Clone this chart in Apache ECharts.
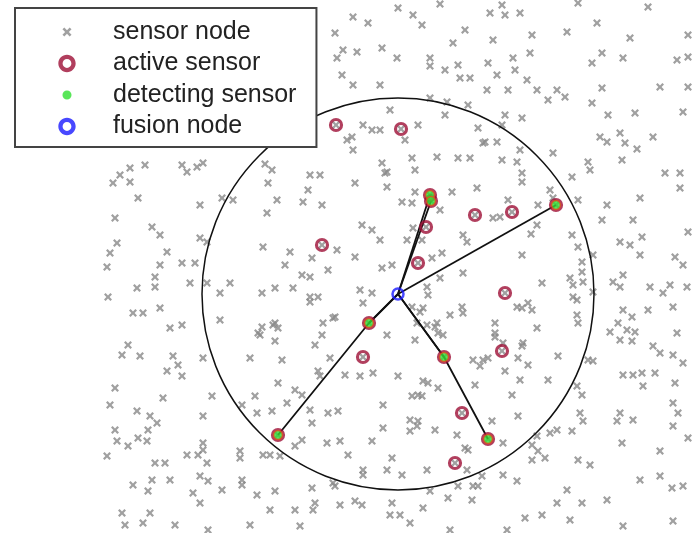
<!DOCTYPE html>
<html>
<head>
<meta charset="utf-8">
<script src="https://cdn.jsdelivr.net/npm/echarts@6/dist/echarts.min.js"></script>
<style>
  html, body { margin: 0; padding: 0; background: #fff; }
  #chart { width: 692px; height: 533px; }
</style>
</head>
<body>
<div id="chart"></div>
<script>
// Field extent (field units, y grows downward)
const fieldWidth = 692;
const fieldHeight = 533;

// Ordinary (idle) sensor nodes scattered over the field
const sensorNodes = [
  [353,17],[368,23],[335,33],[343,50],[357,52],[382,48],[397,58],[337,58],[342,75],[353,85],
  [380,85],[390,110],[363,125],[372,130],[380,130],[347,140],[352,137],[353,150],[382,163],[265,164],
  [203,163],[398,8],[413,15],[422,25],[440,4],[465,30],[490,13],[502,5],[505,15],[520,13],
  [493,40],[532,35],[567,32],[578,3],[597,23],[648,7],[630,38],[688,35],[453,43],[430,58],
  [430,66],[445,70],[458,65],[460,78],[470,78],[488,63],[513,58],[530,53],[497,75],[515,70],
  [527,80],[487,90],[508,90],[537,90],[557,90],[565,97],[548,100],[602,53],[592,63],[623,58],
  [677,60],[688,57],[602,88],[592,103],[660,87],[688,87],[608,115],[635,113],[683,112],[430,98],
  [447,102],[468,105],[445,115],[505,115],[522,118],[418,125],[405,140],[478,128],[502,125],[485,142],
  [497,142],[520,150],[412,158],[437,157],[458,158],[470,158],[502,160],[517,162],[553,153],[600,137],
  [607,142],[620,133],[625,143],[637,149],[653,137],[622,160],[588,162],[590,170],[572,177],[522,173],
  [387,172],[415,170],[665,173],[680,173],[197,167],[310,175],[320,175],[483,143],
  [522,182],[607,205],[578,200],[477,188],[508,200],[493,218],[500,217],[538,205],[550,190],[553,198],
  [537,225],[531,234],[463,235],[467,242],[522,255],[463,273],[542,283],[572,235],[578,247],[582,262],
  [582,272],[583,282],[593,255],[570,278],[593,292],[577,300],[577,315],[578,323],[528,303],[532,310],
  [495,323],[495,333],[537,328],[462,307],[463,313],[602,220],[633,220],[642,237],[680,188],[640,198],
  [620,242],[630,245],[640,255],[675,257],[683,265],[688,232],[613,282],[623,275],[620,287],[650,287],
  [670,285],[663,293],[687,287],[648,310],[673,307],[623,310],[632,317],[618,323],[610,332],[627,330],
  [635,332],[677,333],
  [272,170],[268,183],[308,190],[303,202],[322,205],[277,200],[267,213],[355,183],[385,173],[387,187],
  [415,192],[402,202],[412,203],[440,210],[452,192],[362,225],[372,230],[380,240],[407,240],[413,228],
  [422,240],[263,247],[290,252],[312,258],[337,250],[355,257],[285,265],[328,270],[382,268],[392,265],
  [432,258],[442,253],[440,278],[427,287],[428,295],[302,275],[310,277],[275,288],[293,288],[310,297],
  [318,297],[360,290],[372,293],[262,293],[363,303],[412,307],[420,312],[450,315],[517,307],[275,323],
  [262,327],[323,323],[335,317],[387,335],[417,323],[427,325],[437,323],[443,335],[573,285],[573,297],
  [310,302],[333,318],[273,325],[278,328],[258,333],[322,335],[423,308],[435,327],[438,333],[415,340],
  [522,308],[523,343],[495,337],
  [503,343],[522,346],[518,358],[528,365],[473,360],[483,360],[488,358],[480,366],[505,371],[475,385],
  [520,380],[548,380],[558,356],[588,360],[593,361],[512,395],[518,416],[492,421],[577,386],[582,395],
  [580,413],[583,421],[550,433],[557,430],[572,431],[537,436],[532,445],[538,451],[532,460],[545,458],
  [503,443],[468,450],[482,476],[503,475],[517,481],[473,486],[478,486],[472,500],[578,460],[590,465],
  [567,490],[557,503],[582,503],[607,500],[542,515],[525,518],[570,520],[507,530],[620,340],[632,341],
  [653,346],[660,353],[673,355],[683,363],[623,375],[633,375],[642,373],[655,373],[643,386],[675,383],
  [620,413],[617,421],[633,420],[673,403],[678,413],[673,426],[688,438],[622,443],[660,451],[640,480],
  [660,476],[672,488],[683,486],[673,521],[623,526],
  [260,335],[275,341],[315,345],[250,358],[282,360],[330,358],[318,371],[320,376],[345,375],[360,376],
  [373,373],[398,376],[278,383],[295,390],[302,395],[255,396],[287,403],[257,413],[272,411],[310,410],
  [328,413],[338,411],[312,423],[242,405],[383,405],[423,381],[428,383],[438,388],[418,395],[412,396],
  [422,396],[410,420],[418,421],[417,426],[410,431],[383,428],[435,430],[457,435],[302,440],[295,446],
  [327,443],[340,441],[372,441],[392,458],[348,455],[363,470],[363,475],[387,470],[402,475],[427,470],
  [263,455],[270,455],[280,456],[240,451],[240,458],[242,480],[242,485],[257,495],[275,491],[312,488],
  [333,483],[335,486],[315,503],[313,510],[295,510],[270,510],[340,505],[355,501],[362,505],[392,503],
  [390,515],[400,515],[410,523],[423,508],[430,491],[448,498],[458,486],[467,470],[250,525],[300,526],
  [465,448],[450,530],
  [128,345],[122,355],[140,356],[173,356],[178,365],[167,371],[182,376],[203,358],[115,388],[163,398],
  [212,396],[110,405],[137,411],[150,416],[157,423],[203,416],[115,430],[148,430],[117,441],[128,446],
  [138,438],[147,441],[107,456],[155,463],[165,463],[187,455],[198,455],[203,443],[203,450],[207,463],
  [133,485],[152,480],[170,480],[148,491],[200,476],[208,481],[193,493],[200,503],[222,490],[122,513],
  [150,513],[125,525],[143,523],[175,525],[208,530],
  [130,168],[145,165],[120,175],[130,182],[113,183],[182,165],[187,172],[138,198],[200,205],[115,218],
  [152,227],[160,235],[200,238],[207,242],[117,243],[110,253],[167,252],[107,267],[160,265],[182,263],
  [195,263],[155,277],[155,287],[137,288],[190,283],[207,283],[108,297],[160,308],[133,313],[143,313],
  [170,328],[182,325],[222,198],[233,200],[220,293],[230,283],[220,320]
];

// Sensors woken up around the target
const activeSensors = [
  [336,125],[401,129],[322,245],[426,227],[418,263],[475,215],
  [512,212],[505,293],[363,357],[502,351],[462,413],[455,463]
];

// Sensors that detected the target
const detectingSensors = [
  [430,195],[431,201],[556,205],[369,323],[278,435],[444,357],[488,439]
];

// Fusion node and its coverage radius
const fusionNode = [398,294];
const coverageRadius = 196;

// Reporting paths: indices into detectingSensors, relayed toward the fusion node
const reportRoutes = [[0],[1],[2],[3],[4,3],[5],[6,5]];

// Every active/detecting sensor is also a sensor node
const allNodes = sensorNodes.concat(activeSensors, detectingSensors);
const allActive = activeSensors.concat(detectingSensors);
const routeLines = reportRoutes.map(r => ({
  coords: r.map(i => detectingSensors[i]).concat([fusionNode])
}));

const crossPath = 'path://M0,2L2,0L5,3L8,0L10,2L7,5L10,8L8,10L5,7L2,10L0,8L3,5Z';

// Legend icons: shapes centred at (10,10), corners pinned at 2.5 / 17.5 to fix the icon box
const pad = 'M2.5,2.5h0.01v0.01h-0.01zM17.5,17.5h0.01v0.01h-0.01z';
const iconCross = 'path://' + pad + 'M6.6,8L8,6.6L10,8.6L12,6.6L13.4,8L11.4,10L13.4,12L12,13.4L10,11.4L8,13.4L6.6,12L8.6,10Z';
const iconDot = 'path://' + pad + 'M13.4,10C13.4,11.88 11.88,13.4 10,13.4C8.12,13.4 6.6,11.88 6.6,10C6.6,8.12 8.12,6.6 10,6.6C11.88,6.6 13.4,8.12 13.4,10Z';
const iconRing = 'path://' + pad +
  'M16.5,10C16.5,13.59 13.59,16.5 10,16.5C6.41,16.5 3.5,13.59 3.5,10C3.5,6.41 6.41,3.5 10,3.5C13.59,3.5 16.5,6.41 16.5,10Z' +
  'M13.3,10C13.3,8.18 11.82,6.7 10,6.7C8.18,6.7 6.7,8.18 6.7,10C6.7,11.82 8.18,13.3 10,13.3C11.82,13.3 13.3,11.82 13.3,10Z';

const FONT = '"Liberation Sans", Arial, Helvetica, sans-serif';
const ACTIVE_RED = '#9e0f36';

const chart = echarts.init(document.getElementById('chart'), null, { renderer: 'canvas' });
chart.setOption({
  animation: false,
  backgroundColor: '#ffffff',
  grid: { left: 0, right: 0, top: 0, bottom: 0, containLabel: false },
  xAxis: { type: 'value', min: 0, max: fieldWidth, show: false },
  yAxis: { type: 'value', min: 0, max: fieldHeight, inverse: true, show: false },
  legend: {
    orient: 'vertical',
    left: 15,
    top: 8,
    padding: [11, 20, 7.5, 42],
    itemWidth: 20,
    itemHeight: 20,
    itemGap: 5.5,
    backgroundColor: '#ffffff',
    borderColor: '#444444',
    borderWidth: 2,
    selectedMode: false,
    textStyle: { fontFamily: FONT, fontSize: 25, lineHeight: 26, color: '#222222', padding: [0, 0, 0, 31] },
    data: [
      { name: 'sensor node', icon: iconCross, itemStyle: { color: '#8a8a8a', borderWidth: 0 } },
      { name: 'active sensor', icon: iconRing, itemStyle: { color: ACTIVE_RED, borderWidth: 0 } },
      { name: 'detecting sensor', icon: iconDot, itemStyle: { color: '#2fe02f', borderWidth: 0 } },
      { name: 'fusion node', icon: iconRing, itemStyle: { color: '#1a1aff', borderWidth: 0 } }
    ]
  },
  series: [
    {
      name: 'sensor node',
      type: 'scatter',
      symbol: crossPath,
      symbolSize: 8,
      itemStyle: { color: '#888888' },
      data: allNodes,
      silent: true,
      z: 1
    },
    {
      name: 'coverage',
      type: 'custom',
      silent: true,
      data: [[fusionNode[0], fusionNode[1], coverageRadius]],
      renderItem: function (params, api) {
        const c = api.coord([api.value(0), api.value(1)]);
        const r = api.size([api.value(2), 0])[0];
        return {
          type: 'circle',
          shape: { cx: c[0], cy: c[1], r: r },
          style: { fill: 'none', stroke: '#111111', lineWidth: 1.5 }
        };
      },
      z: 2
    },
    {
      name: 'reports',
      type: 'lines',
      coordinateSystem: 'cartesian2d',
      polyline: true,
      silent: true,
      lineStyle: { color: '#111111', width: 1.8, opacity: 1 },
      data: routeLines,
      z: 3
    },
    {
      name: 'active sensor',
      type: 'scatter',
      symbol: 'circle',
      symbolSize: 11,
      itemStyle: { color: 'rgba(255,255,255,0)', borderColor: ACTIVE_RED, borderWidth: 3.2 },
      data: allActive,
      silent: true,
      z: 4
    },
    {
      name: 'detecting sensor',
      type: 'scatter',
      symbol: 'circle',
      symbolSize: 9,
      itemStyle: { color: '#33dd33', borderColor: '#e4501e', borderWidth: 1.5 },
      data: detectingSensors,
      silent: true,
      z: 5
    },
    {
      name: 'fusion node',
      type: 'scatter',
      symbol: 'circle',
      symbolSize: 11,
      itemStyle: { color: 'rgba(255,255,255,0)', borderColor: '#1a1aff', borderWidth: 2.5 },
      data: [fusionNode],
      silent: true,
      z: 6
    }
  ]
});
</script>
</body>
</html>
